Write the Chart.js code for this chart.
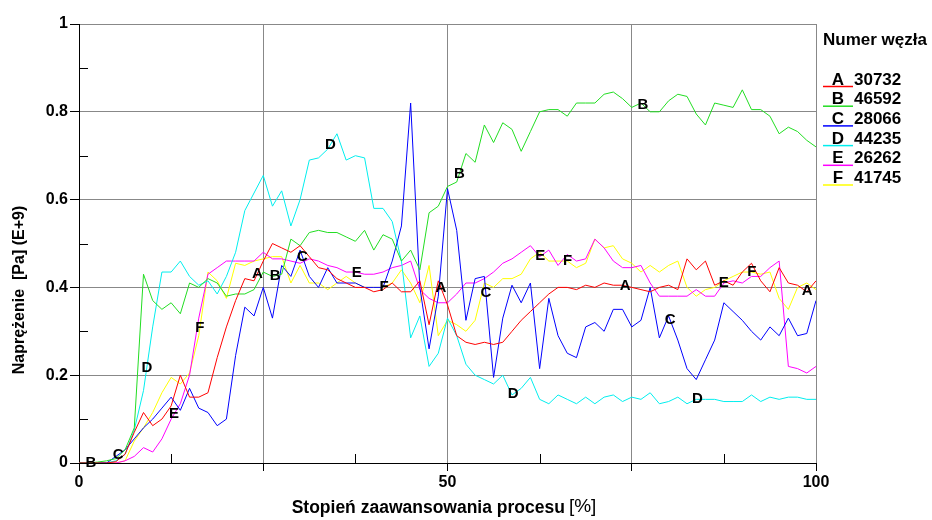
<!DOCTYPE html>
<html>
<head>
<meta charset="utf-8">
<script src="https://cdn.jsdelivr.net/npm/chart.js@4"></script>
<style>
  body { margin: 0; background: #fff; }
  #wrap { width: 932px; height: 520px; }
</style>
</head>
<body>
<div id="wrap"><canvas id="wykres"></canvas></div>
<script>
// Stopień zaawansowania procesu [%]
const postep = [
  0, 1.25, 2.5, 3.75, 5, 6.25, 7.5, 8.75, 10, 11.25,
  12.5, 13.75, 15, 16.25, 17.5, 18.75, 20, 21.25, 22.5, 23.75,
  25, 26.25, 27.5, 28.75, 30, 31.25, 32.5, 33.75, 35, 36.25,
  37.5, 38.75, 40, 41.25, 42.5, 43.75, 45, 46.25, 47.5, 48.75,
  50, 51.25, 52.5, 53.75, 55, 56.25, 57.5, 58.75, 60, 61.25,
  62.5, 63.75, 65, 66.25, 67.5, 68.75, 70, 71.25, 72.5, 73.75,
  75, 76.25, 77.5, 78.75, 80, 81.25, 82.5, 83.75, 85, 86.25,
  87.5, 88.75, 90, 91.25, 92.5, 93.75, 95, 96.25, 97.5, 98.75, 100
];

// Naprężenie [Pa] (E+9) dla kolejnych węzłów
const wezelA = [
  0, 0, 0, 0, 0.003, 0.02, 0.07, 0.115, 0.085, 0.10,
  0.13, 0.20, 0.15, 0.15, 0.16, 0.24, 0.31, 0.37, 0.42, 0.415,
  0.46, 0.50, 0.49, 0.48, 0.495, 0.47, 0.445, 0.44, 0.42, 0.41,
  0.40, 0.40, 0.39, 0.395, 0.41, 0.39, 0.39, 0.415, 0.315, 0.415,
  0.36, 0.29, 0.275, 0.27, 0.275, 0.27, 0.275, 0.30, 0.325, 0.345,
  0.365, 0.385, 0.40, 0.40, 0.395, 0.405, 0.40, 0.41, 0.405, 0.405,
  0.40, 0.395, 0.39, 0.40, 0.405, 0.395, 0.465, 0.44, 0.46, 0.405,
  0.415, 0.405, 0.435, 0.455, 0.415, 0.39, 0.445, 0.41, 0.405, 0.39, 0.415
];
const wezelB = [
  0, 0, 0.002, 0.005, 0.01, 0.03, 0.08, 0.43, 0.37, 0.35,
  0.365, 0.34, 0.41, 0.40, 0.42, 0.41, 0.38, 0.385, 0.385, 0.395,
  0.435, 0.425, 0.43, 0.51, 0.495, 0.525, 0.53, 0.525, 0.525, 0.515,
  0.505, 0.53, 0.485, 0.52, 0.51, 0.46, 0.485, 0.44, 0.57, 0.585,
  0.63, 0.64, 0.705, 0.685, 0.77, 0.73, 0.775, 0.76, 0.71, 0.755,
  0.80, 0.805, 0.805, 0.79, 0.82, 0.82, 0.82, 0.84, 0.845, 0.83,
  0.81, 0.82, 0.80, 0.80, 0.825, 0.84, 0.835, 0.795, 0.77, 0.82,
  0.815, 0.81, 0.85, 0.805, 0.805, 0.79, 0.75, 0.765, 0.755, 0.735, 0.72
];
const wezelC = [
  0, 0, 0, 0, 0.015, 0.03, 0.055, 0.08, 0.10, 0.125,
  0.15, 0.12, 0.17, 0.125, 0.115, 0.085, 0.10, 0.245, 0.355, 0.335,
  0.40, 0.33, 0.45, 0.425, 0.485, 0.425, 0.40, 0.445, 0.41, 0.41,
  0.41, 0.40, 0.40, 0.40, 0.46, 0.54, 0.82, 0.40, 0.26, 0.38,
  0.625, 0.53, 0.325, 0.42, 0.425, 0.195, 0.33, 0.405, 0.365, 0.41,
  0.215, 0.375, 0.29, 0.25, 0.24, 0.31, 0.32, 0.30, 0.35, 0.35,
  0.31, 0.325, 0.40, 0.285, 0.335, 0.28, 0.215, 0.19, 0.235, 0.28,
  0.365, 0.345, 0.325, 0.30, 0.28, 0.31, 0.29, 0.33, 0.29, 0.295, 0.37
];
const wezelD = [
  0, 0, 0, 0, 0.005, 0.02, 0.075, 0.165, 0.31, 0.435,
  0.435, 0.46, 0.425, 0.405, 0.415, 0.385, 0.425, 0.48, 0.575, 0.615,
  0.655, 0.585, 0.62, 0.54, 0.60, 0.69, 0.695, 0.715, 0.75, 0.69,
  0.70, 0.695, 0.58, 0.58, 0.55, 0.46, 0.285, 0.335, 0.22, 0.25,
  0.33, 0.29, 0.225, 0.20, 0.19, 0.18, 0.20, 0.155, 0.17, 0.195,
  0.145, 0.135, 0.155, 0.145, 0.135, 0.15, 0.135, 0.15, 0.155, 0.14,
  0.15, 0.145, 0.16, 0.135, 0.14, 0.15, 0.135, 0.145, 0.145, 0.145,
  0.14, 0.14, 0.14, 0.155, 0.14, 0.15, 0.145, 0.15, 0.15, 0.145, 0.145
];
const wezelE = [
  0, 0, 0, 0, 0, 0.005, 0.015, 0.035, 0.025, 0.055,
  0.10, 0.135, 0.20, 0.33, 0.43, 0.445, 0.46, 0.46, 0.46, 0.46,
  0.48, 0.465, 0.465, 0.46, 0.455, 0.465, 0.46, 0.45, 0.445, 0.435,
  0.435, 0.43, 0.43, 0.435, 0.445, 0.45, 0.46, 0.395, 0.375, 0.365,
  0.365, 0.385, 0.41, 0.41, 0.42, 0.435, 0.455, 0.465, 0.48, 0.495,
  0.47, 0.485, 0.45, 0.475, 0.46, 0.465, 0.51, 0.49, 0.46, 0.445,
  0.445, 0.45, 0.41, 0.38, 0.38, 0.38, 0.38, 0.395, 0.38, 0.38,
  0.41, 0.415, 0.41, 0.425, 0.425, 0.445, 0.46, 0.22, 0.215, 0.205, 0.22
];
const wezelF = [
  0, 0, 0, 0, 0, 0.005, 0.05, 0.08, 0.115, 0.16,
  0.195, 0.18, 0.205, 0.29, 0.435, 0.415, 0.375, 0.455, 0.45, 0.46,
  0.465, 0.47, 0.47, 0.41, 0.45, 0.41, 0.41, 0.395, 0.41, 0.425,
  0.41, 0.40, 0.40, 0.40, 0.41, 0.44, 0.41, 0.365, 0.45, 0.29,
  0.325, 0.315, 0.30, 0.325, 0.41, 0.40, 0.42, 0.42, 0.43, 0.465,
  0.48, 0.46, 0.46, 0.46, 0.445, 0.455, 0.51, 0.49, 0.495, 0.465,
  0.455, 0.435, 0.45, 0.435, 0.45, 0.46, 0.40, 0.38, 0.395, 0.40,
  0.415, 0.425, 0.435, 0.435, 0.43, 0.435, 0.375, 0.35, 0.40, 0.41, 0.395
];

const litery = ['A', 'B', 'C', 'D', 'E', 'F'];
const numeryWezlow = ['30732', '46592', '28066', '44235', '26262', '41745'];
const serie = [wezelA, wezelB, wezelC, wezelD, wezelE, wezelF];
const kolory = ['#ff0000', '#22dd22', '#0000ff', '#00eeee', '#ff00ff', '#ffff00'];

// gdzie (w % procesu) stoją litery na liniach
const etykietyX = [
  [24.2, 49.1, 74.1, 98.8],
  [1.6, 26.6, 51.6, 76.5],
  [5.3, 30.3, 55.2, 80.2],
  [9.2, 34.1, 58.9, 83.9],
  [12.9, 37.7, 62.6, 87.5],
  [16.4, 41.4, 66.3, 91.3]
];

const FONT = 'Arial, "Liberation Sans", sans-serif';
Chart.defaults.font.family = FONT;
Chart.defaults.color = '#000';

// wartość serii w dowolnym punkcie osi X
function interpoluj(xs, ys, x) {
  for (let i = 0; i < xs.length - 1; i++) {
    if (x >= xs[i] && x <= xs[i + 1]) {
      const t = (x - xs[i]) / (xs[i + 1] - xs[i]);
      return ys[i] + t * (ys[i + 1] - ys[i]);
    }
  }
  return ys[ys.length - 1];
}

const dodatki = {
  id: 'dodatki',
  afterDatasetsDraw(chart) {
    const ctx = chart.ctx;
    const sx = chart.scales.x, sy = chart.scales.y;
    ctx.save();

    // małe kreski podziałki wewnątrz wykresu
    ctx.strokeStyle = '#000';
    ctx.lineWidth = 1;
    ctx.beginPath();
    [0.1, 0.3, 0.5, 0.7, 0.9].forEach(v => {
      const py = Math.round(sy.getPixelForValue(v)) + 0.5;
      ctx.moveTo(sx.left, py);
      ctx.lineTo(sx.left + 9, py);
    });
    [12.5, 37.5, 62.5, 87.5].forEach(v => {
      const px = Math.round(sx.getPixelForValue(v)) + 0.5;
      ctx.moveTo(px, sy.bottom);
      ctx.lineTo(px, sy.bottom - 9);
    });
    ctx.stroke();

    // litery na liniach
    ctx.font = 'bold 15px ' + FONT;
    ctx.fillStyle = '#000';
    ctx.textAlign = 'center';
    ctx.textBaseline = 'middle';
    serie.forEach((ys, i) => {
      etykietyX[i].forEach(px => {
        const v = interpoluj(postep, ys, px);
        ctx.fillText(litery[i], sx.getPixelForValue(px), sy.getPixelForValue(v));
      });
    });
    ctx.restore();
  },
  afterDraw(chart) {
    const ctx = chart.ctx;
    ctx.save();
    ctx.fillStyle = '#000';
    ctx.textBaseline = 'middle';

    // legenda po prawej
    ctx.font = 'bold 17px ' + FONT;
    ctx.textAlign = 'left';
    ctx.fillText('Numer węzła', 823, 40);
    litery.forEach((l, i) => {
      const yy = 80 + i * 19.7;
      ctx.strokeStyle = kolory[i];
      ctx.lineWidth = 1.5;
      ctx.beginPath();
      ctx.moveTo(823, yy + 6.5);
      ctx.lineTo(853, yy + 6.5);
      ctx.stroke();
      ctx.textAlign = 'center';
      ctx.fillText(l, 838, yy);
      ctx.textAlign = 'left';
      ctx.fillText(numeryWezlow[i], 854, yy);
    });

    // opis osi X
    const t1 = 'Stopień zaawansowania procesu';
    const t2 = '[%]';
    ctx.font = 'bold 17.5px ' + FONT;
    const w1 = ctx.measureText(t1).width;
    ctx.font = '19px ' + FONT;
    const w2 = ctx.measureText(t2).width;
    const start = 444 - (w1 + 4 + w2) / 2;
    ctx.textAlign = 'left';
    ctx.font = 'bold 17.5px ' + FONT;
    ctx.fillText(t1, start, 508);
    ctx.font = '19px ' + FONT;
    ctx.fillText(t2, start + w1 + 4, 507);

    // opis osi Y
    ctx.translate(20, 290);
    ctx.rotate(-Math.PI / 2);
    ctx.textAlign = 'center';
    ctx.font = 'bold 16px ' + FONT;
    ctx.fillText('Naprężenie  [Pa] (E+9)', 0, 0);
    ctx.restore();
  }
};

const config = {
  type: 'line',
  data: {
    datasets: serie.map((ys, i) => ({
      label: litery[i] + ' ' + numeryWezlow[i],
      data: postep.map((x, j) => ({ x: x, y: ys[j] })),
      borderColor: kolory[i],
      borderWidth: 1,
      pointRadius: 0,
      fill: false,
      tension: 0
    }))
  },
  options: {
    responsive: true,
    maintainAspectRatio: false,
    animation: false,
    layout: { padding: { top: 24, right: 116, bottom: 0, left: 0 } },
    plugins: {
      legend: { display: false },
      tooltip: { enabled: false }
    },
    scales: {
      x: {
        type: 'linear',
        min: 0,
        max: 100,
        ticks: {
          stepSize: 25,
          autoSkip: false,
          maxRotation: 0,
          padding: 2,
          font: { size: 16, weight: 'bold' },
          callback: v => (v % 50 === 0 ? String(v) : '')
        },
        grid: { color: '#888', tickLength: 8, tickColor: '#000' },
        border: { color: '#000' },
        afterFit(scale) { scale.height = 57; }
      },
      y: {
        min: 0,
        max: 1,
        ticks: {
          stepSize: 0.2,
          padding: 2,
          font: { size: 16, weight: 'bold' },
          callback: v => (v === 0 || v === 1 ? String(v) : v.toFixed(1))
        },
        grid: { color: '#888', tickLength: 9, tickColor: '#000' },
        border: { color: '#000' },
        afterFit(scale) { scale.width = 79; }
      }
    }
  },
  plugins: [dodatki]
};

const wykres = new Chart(document.getElementById('wykres'), config);
</script>
</body>
</html>
